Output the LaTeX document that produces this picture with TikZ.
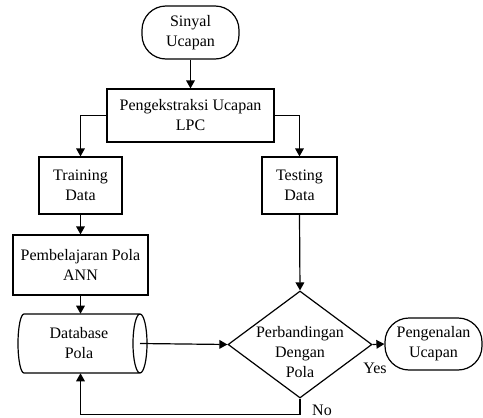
\documentclass[tikz,border=0pt]{standalone}
\usepackage{fontspec}
\setmainfont{Liberation Serif}
\usetikzlibrary{arrows.meta,shapes.geometric}
\begin{document}
\begin{tikzpicture}[x=0.75pt,y=-0.75pt,
  txt/.style={align=center,font=\fontsize{12}{15}\selectfont,inner sep=0pt},
  box/.style={txt,draw,line width=0.9pt},
  term/.style={box,rounded corners=18pt},
  conn/.style={line width=0.9pt,-{Triangle[length=6pt,width=6.5pt]}}]
\useasboundingbox (0,0) rectangle (483,418);
\node[term,minimum width=72.75pt,minimum height=39.75pt] (start) at (190.5,32.5) {Sinyal\\Ucapan};
\node[box,minimum width=125.25pt,minimum height=39.75pt] (lpc) at (190.5,115.5) {Pengekstraksi Ucapan\\LPC};
\node[box,minimum width=62.25pt,minimum height=42.75pt] (train) at (80.5,185.5) {Training\\Data};
\node[box,minimum width=56.25pt,minimum height=42.75pt] (test) at (299.5,185.5) {Testing\\Data};
\node[box,minimum width=101.25pt,minimum height=45pt] (learn) at (80.5,265) {Pembelajaran Pola\\ANN};
% database (horizontal cylinder)
\node[txt,minimum width=87pt,minimum height=44.25pt] (db) at (82,343.5) {};
\draw[line width=0.9pt] (24,314) -- (140,314)
  (24,373) -- (140,373)
  (24,314) arc[start angle=90,end angle=270,x radius=4.5pt,y radius=22.125pt]
  (140,343.5) ellipse[x radius=5.25pt,y radius=22.125pt];
\node[txt] (dbt) at (79,343.5) {Database\\Pola};
\coordinate (dbout) at (140,343.5);
\node[draw,line width=0.9pt,shape=diamond,inner sep=0pt,minimum width=108pt,minimum height=80.25pt] (dia) at (300,344.5) {};
\node[txt] (diat) at (300,352) {Perbandingan\\Dengan\\Pola};
\node[term,minimum width=72.75pt,minimum height=39pt] (end) at (433.5,344) {Pengenalan\\Ucapan};
\node[txt] (yes) at (375,368) {Yes};
\node[txt] (no) at (322,410) {No};
\draw[conn] (start) -- (lpc);
\draw[conn] (lpc.west) -| (train.north);
\draw[conn] (lpc.east) -| (test.north);
\draw[conn] (train) -- (learn);
\draw[conn] (learn.south) -- (learn.south |- db.north);
\draw[conn] (test.south) -- (dia.north);
\draw[conn] (dbout) -- (dia.west);
\draw[conn] (dia.east) -- (end.west);
\draw[conn] (dia.south) -- ++(0,16) -| (learn.south |- db.south);
\end{tikzpicture}
\end{document}
